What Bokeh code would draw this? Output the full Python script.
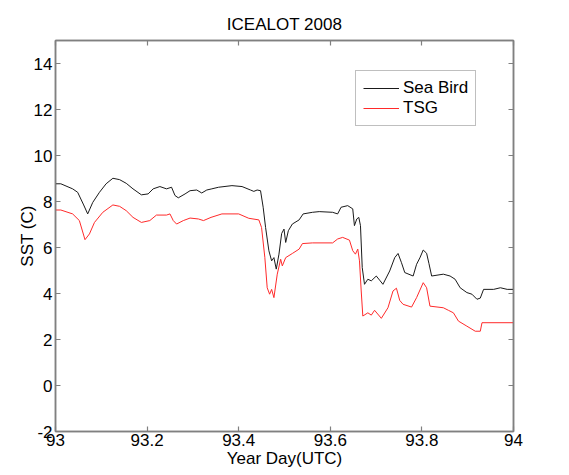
from bokeh.plotting import figure
from bokeh.models import (Range1d, FixedTicker, LinearAxis, Legend, LegendItem,
                          NumeralTickFormatter)
from bokeh.embed import file_html
from bokeh.resources import INLINE

# ---- data ----
seabird_day = [93.0, 93.0116, 93.0374, 93.0484, 93.0615, 93.0703, 93.0813, 93.0960,
               93.1105, 93.1253, 93.1400, 93.1545, 93.1692, 93.1875, 93.2022, 93.2132,
               93.2279, 93.2424, 93.2534, 93.2609, 93.2681, 93.2829, 93.2938, 93.3084,
               93.3193, 93.3303, 93.3413, 93.3560, 93.3853, 93.4073, 93.4257, 93.4330,
               93.4402, 93.4477, 93.4534, 93.4587, 93.4659, 93.4719, 93.4769, 93.4820,
               93.4879, 93.4938, 93.4989, 93.5026, 93.5084, 93.5171, 93.5319, 93.5407,
               93.5611, 93.5758, 93.6051, 93.6160, 93.6235, 93.6380, 93.6490, 93.6527,
               93.6578, 93.6622, 93.6659, 93.6697, 93.6747, 93.6820, 93.6895, 93.7004,
               93.7077, 93.7149, 93.7297, 93.7407, 93.7479, 93.7554, 93.7626, 93.7809,
               93.7884, 93.7956, 93.8029, 93.8103, 93.8154, 93.8213, 93.8468, 93.8615,
               93.8725, 93.8835, 93.8982, 93.9092, 93.9202, 93.9275, 93.9347, 93.9567,
               93.9714, 93.9862, 94.0]
seabird_sst = [8.77, 8.77, 8.55, 8.40, 7.85, 7.46, 7.96, 8.40,
               8.77, 9.01, 8.95, 8.79, 8.55, 8.29, 8.33, 8.55,
               8.65, 8.55, 8.62, 8.26, 8.16, 8.33, 8.47, 8.50,
               8.37, 8.50, 8.55, 8.62, 8.69, 8.65, 8.50, 8.44,
               8.50, 8.47, 7.75, 6.87, 5.86, 5.42, 5.56, 5.06,
               5.71, 6.61, 6.80, 6.22, 6.73, 7.02, 7.20, 7.46,
               7.53, 7.56, 7.53, 7.46, 7.75, 7.82, 7.68, 6.95,
               7.24, 7.31, 6.95, 5.13, 4.40, 4.62, 4.55, 4.76,
               4.58, 4.40, 4.98, 5.56, 5.74, 5.34, 4.91, 4.76,
               5.27, 5.55, 5.89, 5.75, 5.30, 4.76, 4.84, 4.76,
               4.62, 4.25, 4.04, 3.97, 3.75, 3.80, 4.18, 4.18,
               4.25, 4.18, 4.18]

tsg_day = [93.0, 93.0116, 93.0374, 93.0521, 93.0644, 93.0741, 93.0851, 93.1033,
           93.1253, 93.1400, 93.1545, 93.1692, 93.1875, 93.2059, 93.2204, 93.2424,
           93.2499, 93.2571, 93.2644, 93.2791, 93.2938, 93.3121, 93.3231, 93.3396,
           93.3633, 93.4000, 93.4220, 93.4440, 93.4499, 93.4571, 93.4622, 93.4675,
           93.4719, 93.4769, 93.4842, 93.4916, 93.4952, 93.5026, 93.5171, 93.5319,
           93.5391, 93.5611, 93.6051, 93.6160, 93.6270, 93.6418, 93.6490, 93.6549,
           93.6600, 93.6637, 93.6675, 93.6710, 93.6820, 93.6895, 93.6967, 93.7114,
           93.7259, 93.7369, 93.7444, 93.7516, 93.7589, 93.7774, 93.7884, 93.8029,
           93.8103, 93.8176, 93.8468, 93.8578, 93.8688, 93.8798, 93.8982, 93.9165,
           93.9275, 93.9312, 94.0]
tsg_sst = [7.63, 7.63, 7.46, 7.17, 6.34, 6.59, 7.09, 7.53,
           7.85, 7.79, 7.60, 7.31, 7.09, 7.17, 7.41, 7.41,
           7.46, 7.17, 7.02, 7.17, 7.28, 7.24, 7.17, 7.31,
           7.46, 7.46, 7.27, 7.20, 6.87, 5.56, 4.25, 3.97,
           4.18, 3.82, 4.84, 5.49, 5.20, 5.56, 5.74, 5.93,
           6.17, 6.20, 6.20, 6.37, 6.44, 6.32, 5.86, 5.71,
           5.93, 5.42, 4.11, 3.02, 3.16, 3.06, 3.27, 2.92,
           3.38, 4.11, 4.23, 3.70, 3.53, 3.41, 3.82, 4.47,
           4.25, 3.45, 3.38, 3.27, 3.16, 2.80, 2.58, 2.36,
           2.36, 2.73, 2.73]

x_ticks = [93.0, 93.2, 93.4, 93.6, 93.8, 94.0]
x_tick_labels = ["93", "93.2", "93.4", "93.6", "93.8", "94"]
y_ticks = [-2, 0, 2, 4, 6, 8, 10, 12, 14]
y_tick_labels = ["-2", "0", "2", "4", "6", "8", "10", "12", "14"]

series_names = ["Sea Bird", "TSG"]
series_colors = ["#1a1a1a", "#ff2a2a"]

FONT = "Liberation Sans"
FS = "17px"
AX = "#808080"

p = figure(width=569, height=475, output_backend="svg", toolbar_location=None,
           x_range=Range1d(93, 94), y_range=Range1d(-2, 15),
           min_border_left=55, min_border_right=56, min_border_top=40,
           min_border_bottom=44, title="ICEALOT 2008")
p.background_fill_color = "white"
p.border_fill_color = "white"
p.grid.visible = False
p.outline_line_color = AX
p.outline_line_width = 1.5

p.title.text_font = FONT
p.title.text_font_size = FS
p.title.text_font_style = "normal"
p.title.align = "center"
p.title.text_color = "black"
p.title.standoff = 13

r1 = p.line(seabird_day, seabird_sst, line_color=series_colors[0], line_width=1)
r2 = p.line(tsg_day, tsg_sst, line_color=series_colors[1], line_width=1)

def style_axis(ax, ticks, labels, show_labels=True):
    ax.ticker = FixedTicker(ticks=ticks)
    ax.formatter = NumeralTickFormatter(format="0.[0]")
    ax.major_label_overrides = dict(zip(ticks, labels))
    ax.minor_tick_line_color = None
    ax.major_tick_in = 5
    ax.major_tick_out = 0
    ax.major_tick_line_color = AX
    ax.major_tick_line_width = 1.2
    ax.axis_line_color = AX
    ax.axis_line_width = 1.5
    ax.major_label_text_font = FONT
    ax.major_label_text_font_size = FS
    ax.major_label_standoff = 2
    if show_labels:
        ax.major_label_text_color = "black"
    else:
        ax.major_label_text_color = None
        ax.major_label_standoff = 0
    ax.axis_label_text_font = FONT
    ax.axis_label_text_font_size = FS
    ax.axis_label_text_font_style = "normal"
    ax.axis_label_text_color = "black"
    ax.axis_label_standoff = 0

style_axis(p.xaxis[0], x_ticks, x_tick_labels)
style_axis(p.yaxis[0], y_ticks, y_tick_labels)
p.xaxis[0].axis_label = "Year Day(UTC)"
p.yaxis[0].axis_label = "SST (C)"
p.yaxis[0].major_label_standoff = 3
p.yaxis[0].axis_label_standoff = -6

top_ax = LinearAxis()
style_axis(top_ax, x_ticks, x_tick_labels, show_labels=False)
p.add_layout(top_ax, "above")
right_ax = LinearAxis()
style_axis(right_ax, y_ticks, y_tick_labels, show_labels=False)
p.add_layout(right_ax, "right")

legend = Legend(items=[LegendItem(label=series_names[0], renderers=[r1]),
                       LegendItem(label=series_names[1], renderers=[r2])],
                location=(300, 305))
legend.label_text_font = FONT
legend.label_text_font_size = FS
legend.label_text_color = "black"
legend.glyph_width = 36
legend.glyph_height = 18
legend.label_standoff = 4
legend.padding = 7
legend.spacing = 0
legend.margin = 0
legend.border_line_color = AX
legend.border_line_width = 1
legend.background_fill_color = "white"
legend.background_fill_alpha = 1
p.add_layout(legend)

open("out.html", "w").write(file_html(p, INLINE))
